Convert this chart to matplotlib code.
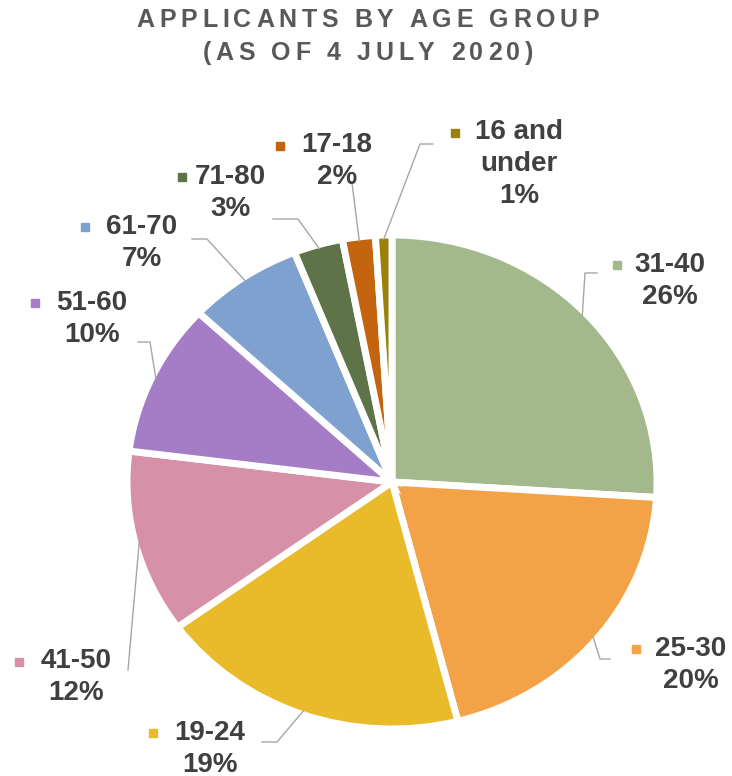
import matplotlib
matplotlib.use('Agg')
import numpy as np
import matplotlib.pyplot as plt
from matplotlib.lines import Line2D
from matplotlib import font_manager, ft2font

# applicants by age group, share in %
groups = ['31-40', '25-30', '19-24', '41-50', '51-60', '61-70', '71-80', '17-18', '16 and\nunder']
shares = [26, 20, 19, 12, 10, 7, 3, 2, 1]
colors = ['#a3b98c', '#f3a247', '#e9bb2b', '#d690a8', '#a57cc6',
          '#7fa1d0', '#5f7349', '#c4640f', '#9b8109']

title_lines = ['APPLICANTS BY AGE GROUP', '(AS OF 4 JULY 2020)']

W, H, DPI = 732, 776, 100
fig = plt.figure(figsize=(W / DPI, H / DPI), dpi=DPI)

def fx(x, y):
    # pixel position (from top-left) -> figure fraction
    return x / W, 1 - y / H

# pie drawn in an axes a bit wider than tall
cx, cy, rx, ry = 392, 482, 265, 247
ax = fig.add_axes([(cx - rx) / W, 1 - (cy + ry) / H, 2 * rx / W, 2 * ry / H])
wedges, _ = ax.pie(shares, colors=colors, startangle=90, counterclock=False,
                   radius=1.0, wedgeprops=dict(edgecolor='white', linewidth=5))
ax.set_aspect('auto')
ax.set_xlim(-1, 1)
ax.set_ylim(-1, 1)
ax.axis('off')

# label layout: text centre x, first line y, marker x, leader elbow, leader end
label_pos = [
    (670, 265, 617, (585, 273), (597, 273)),
    (691, 649, 636, (600, 659), (610, 659)),
    (210, 733, 153, (277, 742), (262, 742)),
    (76, 662, 19, (128, 670), (128, 670)),
    (92, 303, 35, (150, 342), (138, 342)),
    (142, 227, 85, (207, 239), (192, 239)),
    (230, 177, 182, (298, 219), (273, 219)),
    (337, 146, 280, (352, 183), (352, 183)),
    (519, 133, 455, (420, 144), (433, 144)),
]

line_h = 31
txt_color = '#404040'
cum = np.cumsum([0] + shares[:-1])
for g, s, c, cum_s, (tx, ty, mx, elbow, end) in zip(groups, shares, colors, cum, label_pos):
    # anchor on slice rim at mid angle
    ang = np.deg2rad(90 - 3.6 * (cum_s + s / 2))
    ax_pt = (cx + (rx - 4) * np.cos(ang), cy - (ry - 4) * np.sin(ang))
    xs, ys = zip(*[fx(*ax_pt), fx(*elbow), fx(*end)])
    fig.add_artist(Line2D(xs, ys, color='#a6a6a6', lw=1.0, transform=fig.transFigure))

    text = f'{g}\n{s}%'
    n = text.count('\n') + 1
    fig.text(*fx(tx, ty + (n - 1) * line_h / 2), text, ha='center', va='center',
             multialignment='center', fontsize=20, fontweight='bold',
             family='Liberation Sans', color=txt_color, linespacing=1.3)
    fig.add_artist(Line2D([fx(mx, ty)[0]], [fx(mx, ty)[1]], marker='s', markersize=5.5,
                          color=c, lw=0, transform=fig.transFigure))

# letter-spaced title, one glyph at a time
fp = font_manager.FontProperties(family='Liberation Sans', weight='bold')
title_size = 18
ft = ft2font.FT2Font(font_manager.findfont(fp))
ft.set_size(title_size, DPI)
tracking = 4.6
for line, y in zip(title_lines, [20, 53]):
    adv = [ft.load_char(ord(ch)).linearHoriAdvance / 65536 for ch in line]
    total = sum(adv) + tracking * (len(line) - 1)
    x = 368 - total / 2
    for ch, a in zip(line, adv):
        fig.text(*fx(x, y), ch, ha='left', va='center', fontsize=title_size,
                 fontproperties=fp, color='#595959')
        x += a + tracking

fig.savefig('out.png', dpi=DPI, facecolor='white')
